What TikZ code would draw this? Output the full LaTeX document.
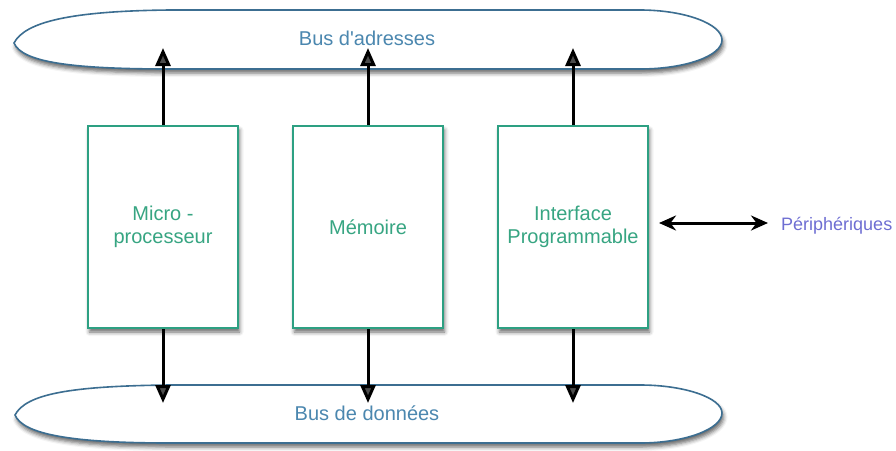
\documentclass[tikz,border=0pt]{standalone}
\usepackage{fontspec}
\setmainfont{Liberation Sans}
\usetikzlibrary{arrows.meta,shadows.blur}
\definecolor{busline}{RGB}{60,110,145}
\definecolor{bustext}{RGB}{75,135,175}
\definecolor{boxline}{RGB}{45,160,130}
\definecolor{boxtext}{RGB}{55,165,130}
\definecolor{peri}{RGB}{110,110,210}
\begin{document}
\begin{tikzpicture}[x=1pt,y=-1pt,
  softshadow/.style={blur shadow={shadow xshift=1.5pt, shadow yshift=-4pt,
      shadow blur radius=4pt, shadow opacity=60}},
  bus/.style={draw=busline, line width=1.6pt, fill=white, softshadow},
  blk/.style={draw=boxline, line width=2pt, fill=white, minimum width=150pt,
      minimum height=202pt, align=center, text=boxtext,
      font=\fontsize{20}{23}\selectfont, softshadow},
  buslabel/.style={text=bustext, font=\fontsize{20}{23}\selectfont},
  link/.style={line width=3pt, -{Triangle[width=15pt,length=18pt]}},
  twoway/.style={line width=3pt, {Stealth[width=15pt,length=17pt]}-{Stealth[width=15pt,length=17pt]}}
]
\useasboundingbox (0,0) rectangle (896,450);

% address bus
\path[bus] (14,43) .. controls (25,22) and (70,11) .. (170,10)
  -- (640,10) .. controls (685,10) and (722,24) .. (722,40)
  .. controls (722,56) and (685,69) .. (640,69)
  -- (170,69) .. controls (70,69) and (22,62) .. cycle;
\node[buslabel] (abus) at (367,38) {Bus d\textquotesingle adresses};

% data bus
\path[bus] (15,415) .. controls (26,394) and (70,386) .. (170,385)
  -- (640,385) .. controls (685,385) and (722,398) .. (722,413)
  .. controls (722,429) and (685,443) .. (640,443)
  -- (170,443) .. controls (70,443) and (23,434) .. cycle;
\node[buslabel] (dbus) at (367,413) {Bus de données};

% points where the arrows meet the buses
\coordinate (atop) at (0,48);
\coordinate (dtop) at (0,403);
\coordinate (side) at (0,223);

% blocks
\node[blk] (cpu) at (163,227) {Micro -\\processeur};
\node[blk] (mem) at (368,227) {Mémoire};
\node[blk] (io)  at (573,227) {Interface\\Programmable};

\node[text=peri, font=\fontsize{18}{21}\selectfont, anchor=west, inner sep=0pt]
  (dev) at (781,226) {Périphériques};

% links to the buses
\foreach \b in {cpu,mem,io}{
  \draw[link] (\b.north) -- (\b.north |- atop);
  \draw[link] (\b.south) -- (\b.south |- dtop);
}
\draw[twoway, shorten <=10pt, shorten >=13pt] (io.east |- side) -- (dev.west |- side);
\end{tikzpicture}
\end{document}
